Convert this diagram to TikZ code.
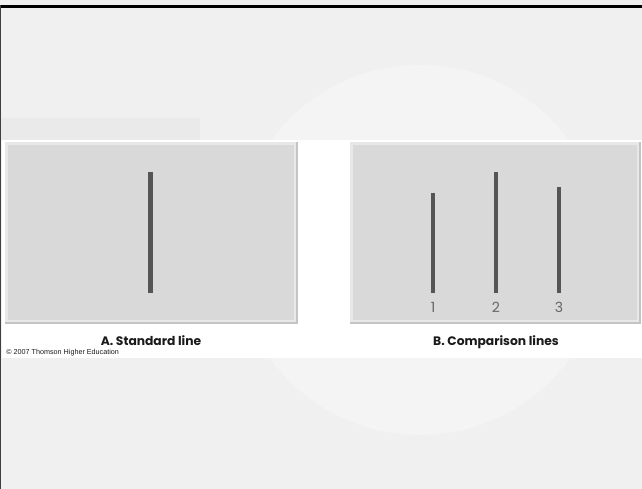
\documentclass[tikz,border=0pt]{standalone}
\usepackage{fontspec}
\usepackage{tikz}
\usepackage{xcolor}
\usetikzlibrary{positioning,calc}
\newfontfamily\labelfont{Poppins}
\newfontfamily\smallfont{Liberation Sans}
\definecolor{slidebg}{HTML}{F0F0F0}
\definecolor{slidehl}{HTML}{F4F4F4}
\definecolor{slideshade}{HTML}{EAEAEA}
\definecolor{panelfill}{HTML}{D9D9D9}
\definecolor{panellight}{HTML}{E8E8E8}
\definecolor{paneldark}{HTML}{C4C4C4}
\definecolor{barink}{HTML}{555555}
\definecolor{ink}{HTML}{1A1A1A}
\definecolor{inkgray}{HTML}{666666}
\tikzset{
  panel/.style={fill=panelfill,draw=none},
  bar/.style={draw=barink,line width=2.6pt},
  caption/.style={font=\labelfont\bfseries\fontsize{7}{8}\selectfont,
                  text=ink,inner sep=0pt,anchor=base},
  barnum/.style={font=\labelfont\fontsize{8}{9}\selectfont,text=inkgray,
                 inner sep=0pt},
  credit/.style={font=\smallfont\fontsize{4.1}{5}\selectfont,text=ink,
                 inner sep=0pt,anchor=west}
}

\begin{document}
\begin{tikzpicture}[x=0.02cm,y=-0.02cm]
    \path[use as bounding box] (0,0) rectangle (642,489);
    % slide background
    \fill[slidebg] (0,0) rectangle (642,489);
    \fill[slidehl] (420,250) circle (185);
    \fill[slideshade] (0,118) rectangle (200,140);
    \fill[black] (0,5) rectangle (642,8);
    \fill[black!75] (0,5) rectangle (1.5,489);
    % white band
    \fill[white] (2,140) rectangle (642,358);

    % panel A
    \fill[paneldark] (5,142) rectangle (298,324);
    \fill[panellight] (5,142) rectangle (296,322);
    \fill[panel] (8,145) rectangle (294,320);
    \draw[bar] (150.5,172) -- (150.5,293);
    \node[caption] (capA) at (151,345) {A. Standard line};

    % panel B
    \fill[paneldark] (350,142) rectangle (641,324);
    \fill[panellight] (350,142) rectangle (639,322);
    \fill[panel] (353,145) rectangle (637,320);
    \draw[bar] (433,193) -- (433,293);
    \draw[bar] (496,172) -- (496,293);
    \draw[bar] (559,187) -- (559,293);
    \node[barnum] (n1) at (433,307) {1};
    \node[barnum] (n2) at (496,307) {2};
    \node[barnum] (n3) at (559,307) {3};
    \node[caption] (capB) at (496,345) {B. Comparison lines};

    \node[credit] (credit) at (6,352.5) {\textcopyright{} 2007 Thomson Higher Education};
  \end{tikzpicture}
\end{document}
